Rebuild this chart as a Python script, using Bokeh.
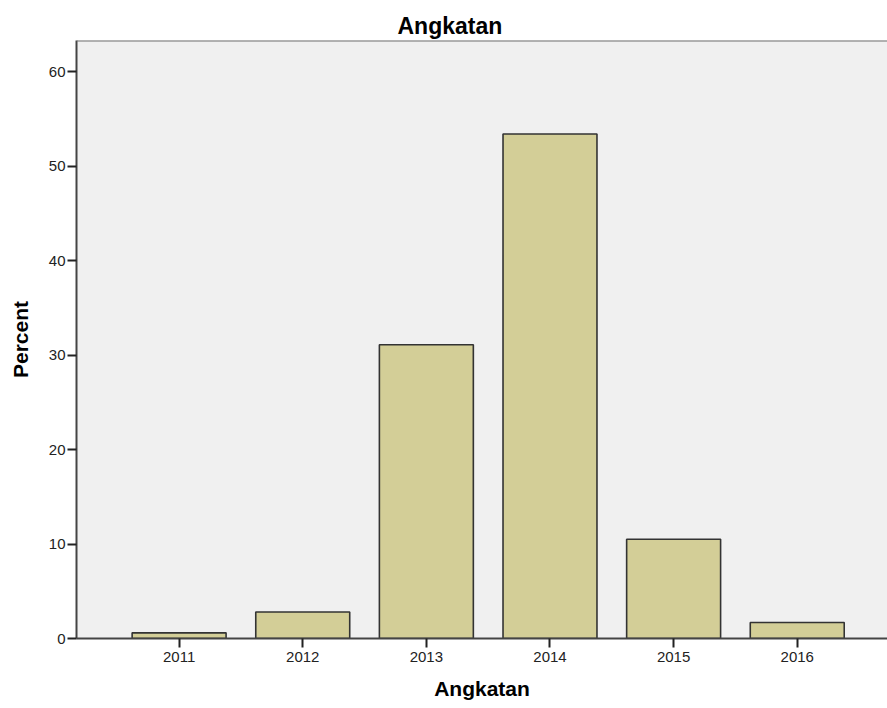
from bokeh.plotting import figure
from bokeh.models import Range1d, FixedTicker, ColumnDataSource, Span
from bokeh.embed import file_html
from bokeh.resources import INLINE

categories = ["2011", "2012", "2013", "2014", "2015", "2016"]
percent = [0.6, 2.8, 31.1, 53.4, 10.5, 1.7]
y_ticks = [0, 10, 20, 30, 40, 50, 60]

positions = list(range(1, len(categories) + 1))
src = ColumnDataSource(dict(x=positions, top=percent, label=categories))

FONT = "Liberation Sans"
Y_END = 63.3

p = figure(width=887, height=708, output_backend="svg", toolbar_location=None,
           x_range=Range1d(0.17, 6.73), y_range=Range1d(0, Y_END),
           title="Angkatan", min_border_left=76, min_border_right=0,
           min_border_top=40, min_border_bottom=70)

p.vbar(x="x", top="top", bottom=0, width=0.76, source=src,
       fill_color="#d3ce97", line_color="#333333", line_width=1.6)

p.background_fill_color = "#f0f0f0"
p.border_fill_color = "white"
p.outline_line_color = None
p.grid.visible = False

p.title.align = "left"
p.title.offset = 321
p.title.text_font = FONT
p.title.text_font_size = "23px"
p.title.text_font_style = "bold"
p.title.text_color = "#000000"
p.title.standoff = 4

p.xaxis.ticker = FixedTicker(ticks=positions)
p.xaxis.major_label_overrides = {pos: lab for pos, lab in zip(positions, categories)}
p.yaxis.ticker = FixedTicker(ticks=y_ticks)

for ax in (p.xaxis[0], p.yaxis[0]):
    ax.axis_line_color = "#444444"
    ax.axis_line_width = 2
    ax.major_tick_line_color = "#222222"
    ax.major_tick_line_width = 2
    ax.major_tick_in = 0
    ax.major_tick_out = 9
    ax.minor_tick_line_color = None
    ax.major_label_text_font = FONT
    ax.major_label_text_font_size = "15px"
    ax.major_label_text_color = "#222222"
    ax.axis_label_text_font = FONT
    ax.axis_label_text_font_size = "21px"
    ax.axis_label_text_font_style = "bold"
    ax.axis_label_text_color = "#000000"

p.xaxis.axis_label = "Angkatan"
p.yaxis.axis_label = "Percent"
p.xaxis.major_label_standoff = 4
p.xaxis.axis_label_standoff = 12
p.yaxis.major_label_standoff = 2
p.yaxis.axis_label_standoff = 14

top_border = Span(location=Y_END, dimension="width", line_color="#6e6e6e", line_width=2)
p.add_layout(top_border)

open("out.html", "w").write(file_html(p, INLINE))
